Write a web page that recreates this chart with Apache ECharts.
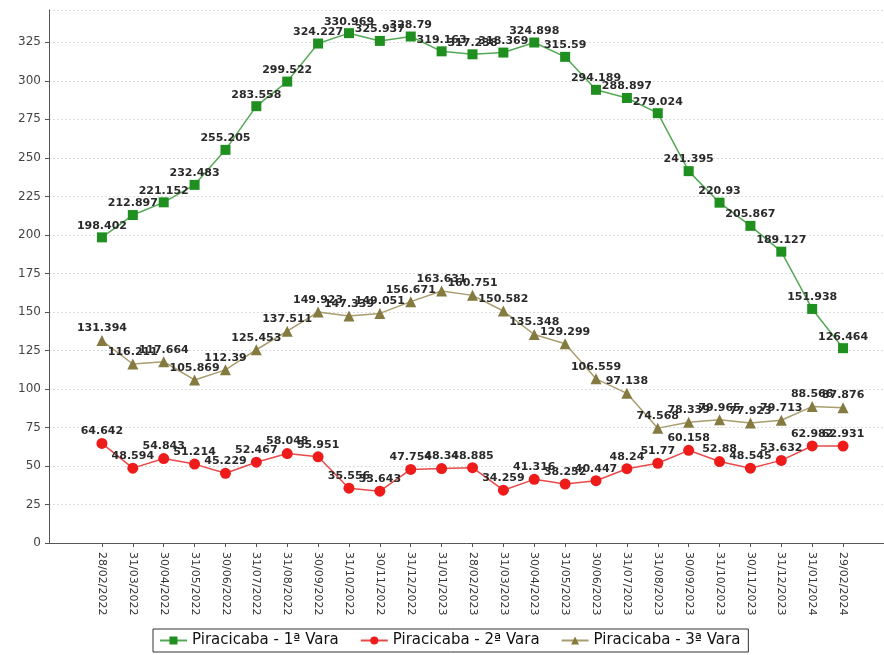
<!DOCTYPE html>
<html>
<head>
<meta charset="utf-8">
<script src="https://cdn.jsdelivr.net/npm/echarts@6/dist/echarts.min.js"></script>
<style>
html,body{margin:0;padding:0;background:#fff;}
#c{width:884px;height:655px;}
</style>
</head>
<body>
<div id="c"></div>
<script>
const categories = ["28/02/2022","31/03/2022","30/04/2022","31/05/2022","30/06/2022","31/07/2022","31/08/2022","30/09/2022","31/10/2022","30/11/2022","31/12/2022","31/01/2023","28/02/2023","31/03/2023","30/04/2023","31/05/2023","30/06/2023","31/07/2023","31/08/2023","30/09/2023","31/10/2023","30/11/2023","31/12/2023","31/01/2024","29/02/2024"];
const vara1 = [198.402,212.897,221.152,232.483,255.205,283.558,299.522,324.227,330.969,325.937,328.79,319.163,317.238,318.369,324.898,315.59,294.189,288.897,279.024,241.395,220.93,205.867,189.127,151.938,126.464];
const vara2 = [64.642,48.594,54.843,51.214,45.229,52.467,58.048,55.951,35.556,33.643,47.754,48.34,48.885,34.259,41.316,38.252,40.447,48.24,51.77,60.158,52.88,48.545,53.632,62.982,62.931];
const vara3 = [131.394,116.211,117.664,105.869,112.39,125.453,137.511,149.923,147.339,149.051,156.671,163.631,160.751,150.582,135.348,129.299,106.559,97.138,74.568,78.339,79.965,77.923,79.713,88.566,87.876];
const seriesNames = ["Piracicaba - 1ª Vara","Piracicaba - 2ª Vara","Piracicaba - 3ª Vara"];
const yTicks = {min:0, max:346, interval:25};

const FONT = "DejaVu Sans";
const chart = echarts.init(document.getElementById('c'), null, {renderer:'canvas'});
const lbl = {show:true, position:'top', distance:1, color:'#2a2a2a', fontSize:11, fontWeight:'bold', fontFamily:FONT};
function mk(name, data, symbol, size, color, lineColor){
  return {name, type:'line', data, xAxisIndex:1, yAxisIndex:1, symbol, symbolSize:size,
    itemStyle:{color}, lineStyle:{color:lineColor, width:1.5}, label:lbl, animation:false,
    emphasis:{disabled:true}};
}
chart.setOption({
  animation:false,
  textStyle:{fontFamily:FONT},
  grid:[
    {left:49, top:10, right:0, height:533},
    {left:86.5, top:10, right:25.5, height:533}
  ],
  xAxis:[
    {gridIndex:0, type:'value', min:0, max:1, axisLine:{show:true, lineStyle:{color:'#555', width:1}},
     axisTick:{show:false}, axisLabel:{show:false}, splitLine:{show:false}},
    {gridIndex:1, type:'category', data:categories, boundaryGap:true,
     axisLine:{show:false}, axisTick:{show:true, alignWithLabel:true, length:4, lineStyle:{color:'#555'}},
     axisLabel:{rotate:-90, margin:9, fontSize:11, color:'#333', fontFamily:FONT, interval:0},
     splitLine:{show:false}}
  ],
  yAxis:[
    {gridIndex:0, type:'value', min:yTicks.min, max:yTicks.max, interval:yTicks.interval,
     axisLine:{show:true, lineStyle:{color:'#555', width:1}},
     axisTick:{show:true, length:4, lineStyle:{color:'#555'}},
     axisLabel:{fontSize:12, color:'#444', fontFamily:FONT, margin:8, showMaxLabel:false},
     splitLine:{show:true, lineStyle:{color:'#dcdcdc', type:[2,2]}}},
    {gridIndex:1, type:'value', min:yTicks.min, max:yTicks.max, interval:yTicks.interval, show:false,
     splitLine:{show:false}}
  ],
  legend:{
    left:153, top:629, orient:'horizontal', itemWidth:27, itemHeight:10, itemGap:21,
    borderColor:'#333', borderWidth:1, padding:[4,8,4,6],
    textStyle:{fontSize:15, color:'#111', fontFamily:FONT},
    data:seriesNames
  },
  series:[
    mk(seriesNames[0], vara1, 'rect', 10, '#1f8f1f', '#55a855'),
    mk(seriesNames[1], vara2, 'circle', 11, '#ee1b1b', '#e84a4a'),
    mk(seriesNames[2], vara3, 'triangle', 11, '#857a40', '#a99d6f')
  ]
});
</script>
</body>
</html>
